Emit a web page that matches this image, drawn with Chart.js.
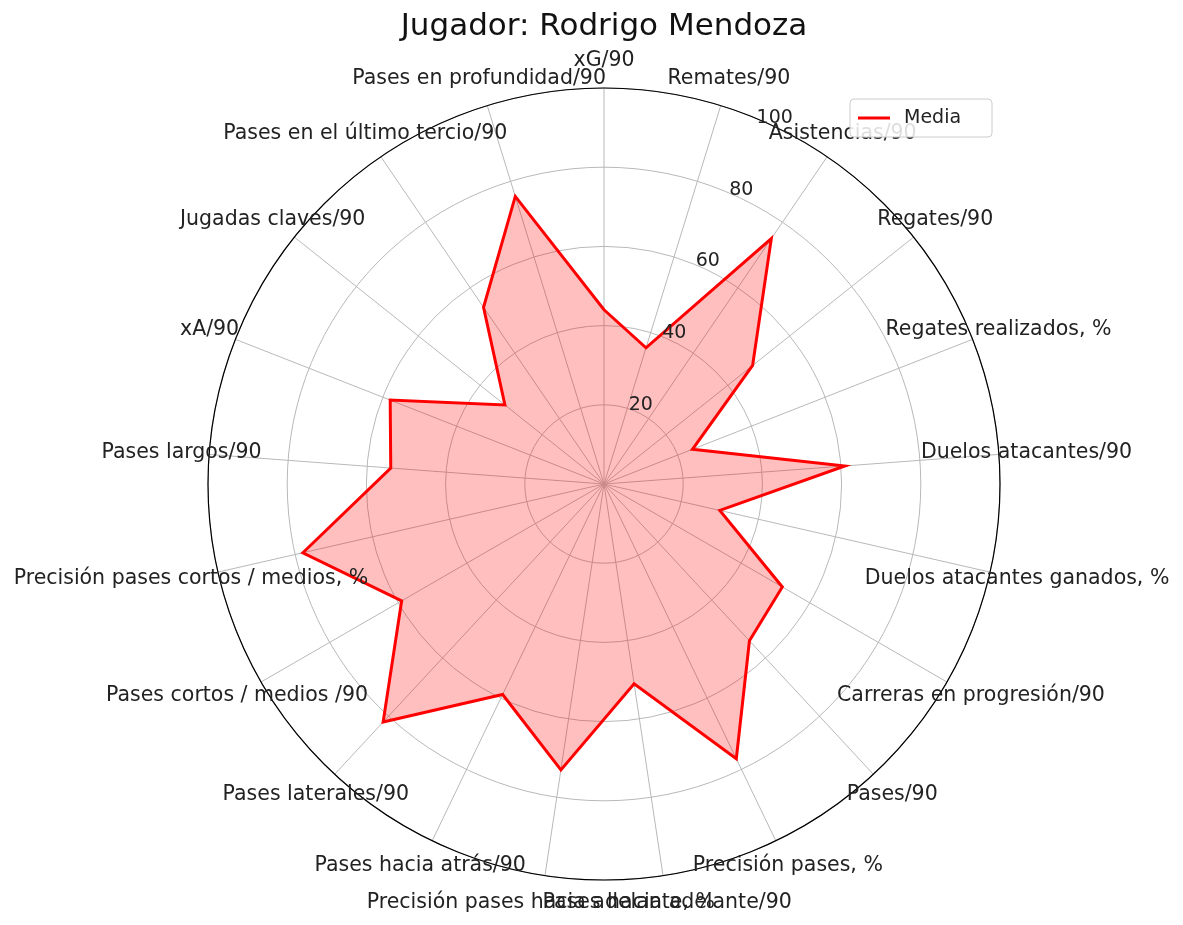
<!DOCTYPE html>
<html>
<head>
<meta charset="utf-8">
<script src="https://cdn.jsdelivr.net/npm/chart.js@4"></script>
<style>
  body { margin: 0; background: #fff; }
</style>
</head>
<body>
<canvas id="radar" width="1183" height="925"></canvas>
<script>
// categories, clockwise from the top
const categories = [
  'xG/90', 'Remates/90', 'Asistencias/90', 'Regates/90', 'Regates realizados, %',
  'Duelos atacantes/90', 'Duelos atacantes ganados, %', 'Carreras en progresión/90',
  'Pases/90', 'Precisión pases, %', 'Pases hacia adelante/90',
  'Precisión pases hacia adelante, %', 'Pases hacia atrás/90', 'Pases laterales/90',
  'Pases cortos / medios /90', 'Precisión pases cortos / medios, %', 'Pases largos/90',
  'xA/90', 'Jugadas claves/90', 'Pases en el último tercio/90', 'Pases en profundidad/90'
];
const mediaValues = [44, 36, 75, 48, 24, 61, 30, 52, 54, 77, 51, 73, 59, 82, 59, 78, 54, 58, 32, 54, 76];
const tickValues = [20, 40, 60, 80, 100];

const FONT = '"DejaVu Sans", sans-serif';

// title, angular labels, radial tick labels, outer ring and legend (matplotlib look)
const decorations = {
  id: 'decorations',
  afterDraw(chart) {
    const ctx = chart.ctx;
    const r = chart.scales.r;
    ctx.save();

    // outer black ring
    ctx.beginPath();
    ctx.arc(r.xCenter, r.yCenter, r.getDistanceFromCenterForValue(100), 0, Math.PI * 2);
    ctx.strokeStyle = '#000';
    ctx.lineWidth = 1.2;
    ctx.stroke();

    ctx.fillStyle = '#222';
    ctx.textAlign = 'center';
    ctx.textBaseline = 'middle';

    // category labels
    ctx.font = '20.5px ' + FONT;
    const labelR = r.getDistanceFromCenterForValue(100) * 1.07;
    categories.forEach((c, i) => {
      const a = i * 2 * Math.PI / categories.length;
      ctx.fillText(c, r.xCenter + labelR * Math.sin(a), r.yCenter - labelR * Math.cos(a));
    });

    // radial ticks along a slanted line
    ctx.font = '19px ' + FONT;
    const ta = 25 * Math.PI / 180;
    tickValues.forEach(v => {
      const d = r.getDistanceFromCenterForValue(v) + 8;
      ctx.fillText(String(v), r.xCenter + d * Math.sin(ta), r.yCenter - d * Math.cos(ta));
    });

    // title
    ctx.font = '31px ' + FONT;
    ctx.fillStyle = '#111';
    ctx.fillText('Jugador: Rodrigo Mendoza', 604, 27);

    // legend
    ctx.fillStyle = 'rgba(255,255,255,0.85)';
    ctx.strokeStyle = '#ccc';
    ctx.lineWidth = 1;
    ctx.beginPath();
    ctx.roundRect(850, 99, 142, 38, 4);
    ctx.fill();
    ctx.stroke();
    ctx.strokeStyle = 'red';
    ctx.lineWidth = 3;
    ctx.beginPath();
    ctx.moveTo(858, 118);
    ctx.lineTo(890, 118);
    ctx.stroke();
    ctx.fillStyle = '#222';
    ctx.font = '19px ' + FONT;
    ctx.textAlign = 'left';
    ctx.fillText('Media', 904, 118);

    ctx.restore();
  }
};

new Chart(document.getElementById('radar'), {
  type: 'radar',
  data: {
    labels: categories,
    datasets: [{
      label: 'Media',
      data: mediaValues,
      borderColor: 'red',
      backgroundColor: 'rgba(255, 0, 0, 0.25)',
      borderWidth: 3,
      pointRadius: 0,
      fill: true,
      tension: 0
    }]
  },
  options: {
    responsive: false,
    animation: false,
    devicePixelRatio: 1,
    layout: { padding: { left: 208, right: 183, top: 88, bottom: 45 } },
    plugins: { legend: { display: false }, title: { display: false }, tooltip: { enabled: false } },
    scales: {
      r: {
        min: 0,
        max: 100,
        ticks: { display: false, stepSize: 20 },
        pointLabels: { display: false },
        grid: { circular: true, color: '#b8b8b8', lineWidth: 1 },
        angleLines: { color: '#b8b8b8', lineWidth: 1 }
      }
    }
  },
  plugins: [decorations]
});
</script>
</body>
</html>
